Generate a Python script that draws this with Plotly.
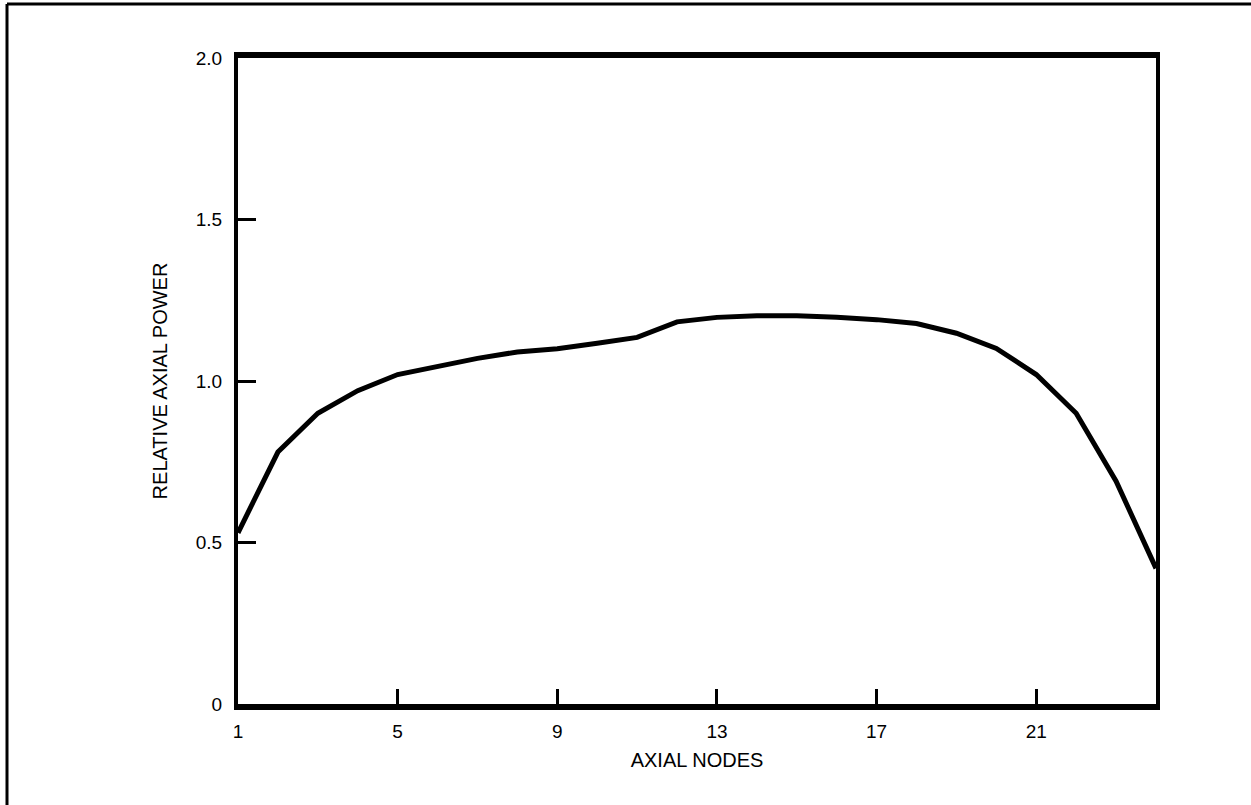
import plotly.graph_objects as go

nodes = list(range(1, 25))
power = [0.53, 0.78, 0.90, 0.97, 1.02, 1.046, 1.07, 1.09, 1.10, 1.117, 1.135, 1.183,
         1.197, 1.202, 1.202, 1.197, 1.19, 1.178, 1.148, 1.101, 1.02, 0.90, 0.69, 0.42]

x_tickvals = [1, 5, 9, 13, 17, 21]
x_ticktext = ["1", "5", "9", "13", "17", "21"]
y_tickvals = [0, 0.5, 1.0, 1.5, 2.0]
y_ticktext = ["0", "0.5", "1.0", "1.5", "2.0"]

W, H = 1251, 805
L, R, T, B = 238, 95, 58, 101
pw, ph = W - L - R, H - T - B

fig = go.Figure()
fig.add_trace(go.Scatter(x=nodes, y=power, mode="lines",
                         line=dict(color="black", width=5), showlegend=False,
                         hoverinfo="skip"))

font = dict(family="Liberation Sans, Arial, sans-serif", color="black")

fig.update_layout(
    width=W, height=H,
    margin=dict(l=L, r=R, t=T, b=B, pad=0),
    paper_bgcolor="white", plot_bgcolor="white",
    font=dict(**font, size=19),
    xaxis=dict(range=[1, 24], tickvals=x_tickvals, ticktext=x_ticktext,
               ticks="inside", ticklen=15, tickwidth=3, tickcolor="black",
               showline=True, linewidth=6, linecolor="black", mirror=True,
               showgrid=False, zeroline=False,
               title=dict(text="AXIAL NODES", font=dict(**font, size=20), standoff=14),
               tickfont=dict(**font, size=19), ticklabelstandoff=5),
    yaxis=dict(range=[0, 2], tickvals=y_tickvals, ticktext=y_ticktext,
               ticks="inside", ticklen=18, tickwidth=3, tickcolor="black",
               showline=True, linewidth=4, linecolor="black", mirror=True,
               showgrid=False, zeroline=False,
               title=dict(text="RELATIVE AXIAL POWER", font=dict(**font, size=20), standoff=24),
               tickfont=dict(**font, size=19), ticklabelstandoff=8),
    shapes=[
        dict(type="line", xref="paper", yref="paper",
             x0=(7 - L) / pw, x1=(1400 - L) / pw,
             y0=(H - B - 4) / ph, y1=(H - B - 4) / ph,
             line=dict(color="black", width=3)),
        dict(type="line", xref="paper", yref="paper",
             x0=(7 - L) / pw, x1=(7 - L) / pw,
             y0=(H - B - 4) / ph, y1=-0.5,
             line=dict(color="black", width=3)),
    ],
)

fig.write_html("out.html", config={"displayModeBar": False},
               post_script="document.body.style.margin='0';")
